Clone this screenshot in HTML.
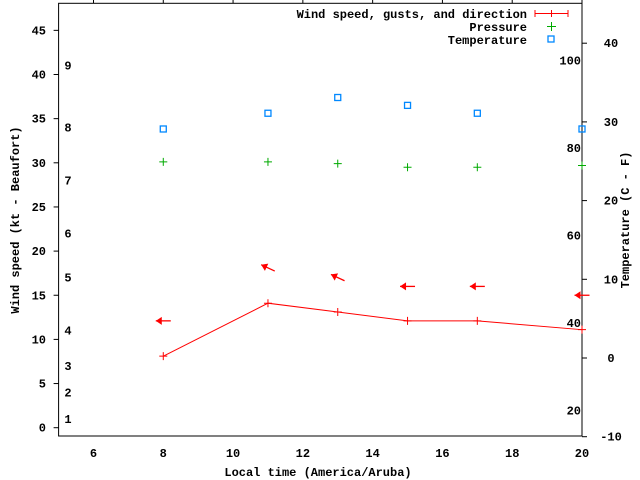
<!DOCTYPE html>
<html><head><meta charset="utf-8"><style>
html,body{margin:0;padding:0;background:#fff}
svg{display:block}
text{font-family:"Liberation Mono",monospace;font-size:12px;font-weight:bold;fill:#000}
</style></head><body>
<svg id="chart" width="640" height="480" viewBox="0 0 640 480" xmlns="http://www.w3.org/2000/svg">
<rect x="0" y="0" width="640" height="480" fill="#fff"/>
<g id="axes"></g>
<g id="marks"></g>
<g id="legend">
<text x="527" y="18" text-anchor="end">Wind speed, gusts, and direction</text>
<g stroke="#f00" stroke-width="1"><line x1="535" y1="13.5" x2="568" y2="13.5"/><line x1="535" y1="10" x2="535" y2="17"/><line x1="568" y1="10" x2="568" y2="17"/><line x1="551.5" y1="10" x2="551.5" y2="17"/></g>
<text x="527" y="31" text-anchor="end">Pressure</text>
<g stroke="#0a0" stroke-width="1"><line x1="547" y1="26.5" x2="556" y2="26.5"/><line x1="551.5" y1="22" x2="551.5" y2="31"/></g>
<text x="527" y="44" text-anchor="end">Temperature</text>
<rect x="548" y="36" width="6" height="6" fill="none" stroke="#08f" stroke-width="1.3"/>
</g>
<text x="318" y="476" text-anchor="middle">Local time (America/Aruba)</text>
<text transform="translate(19,220) rotate(-90)" text-anchor="middle">Wind speed (kt - Beaufort)</text>
<text transform="translate(629,220) rotate(-90)" text-anchor="middle">Temperature (C - F)</text>
</svg>
<script>
const hours = [8, 11, 13, 15, 17, 20];
const windSpeed = [8.1, 14.1, 13.1, 12.1, 12.1, 11.1];
const gustLevel = [12.1, 18.1, 17.0, 16.0, 16.0, 15.0];
const windDirDeg = [180, 155, 155, 180, 180, 180];
const pressure = [30.1, 30.1, 29.9, 29.5, 29.5, 29.7];
const temperatureC = [29.1, 31.1, 33.1, 32.1, 31.1, 29.1];
const xTicks = [6, 8, 10, 12, 14, 16, 18, 20];
const yTicks = [0, 5, 10, 15, 20, 25, 30, 35, 40, 45];
const y2Ticks = [-10, 0, 10, 20, 30, 40];
const fahrenheitTicks = [20, 40, 60, 80, 100];
const beaufortLabels = [1, 2, 3, 4, 5, 6, 7, 8, 9];
const beaufortKt = [1, 4, 7, 11, 17, 22, 28, 34, 41];

const L = 58.6, R = 582, T = 3.3, B = 436;
const xs = v => L + (v - 5) * (R - L) / 15;
const ys = v => 427.7 - v * 8.83;
const y2s = v => 436.7 - (v + 10) * 7.87;
const NS = "http://www.w3.org/2000/svg";
function mk(tag, attrs, parent, txt) {
  const e = document.createElementNS(NS, tag);
  for (const k in attrs) e.setAttribute(k, attrs[k]);
  if (txt !== undefined) e.textContent = txt;
  parent.appendChild(e);
  return e;
}
const axes = document.getElementById('axes');
const marks = document.getElementById('marks');
const frame = mk('rect', {x: L, y: T, width: R - L, height: B - T, fill: 'none', stroke: '#000', 'stroke-width': 1}, axes);


xTicks.forEach(v => {
  const x = xs(v);
  mk('line', {x1: x, y1: 0, x2: x, y2: T, stroke: '#000'}, axes);
  const t = mk('text', {x: x, y: 457, 'text-anchor': 'middle'}, axes, v);
  
  
});
yTicks.forEach(v => {
  const y = ys(v);
  mk('line', {x1: L - 5, y1: y, x2: L, y2: y, stroke: '#000'}, axes);
  const t = mk('text', {x: 46, y: y + 4, 'text-anchor': 'end'}, axes, v);
  
  
});
y2Ticks.forEach(v => {
  const y = y2s(v);
  mk('line', {x1: R, y1: y, x2: R + 5, y2: y, stroke: '#000'}, axes);
  const t = mk('text', {x: 611, y: y + 4, 'text-anchor': 'middle'}, axes, v);
  
  
});
fahrenheitTicks.forEach(v => {
  const t = mk('text', {x: 581, y: y2s((v - 32) * 5 / 9) + 4, 'text-anchor': 'end'}, axes, v);
  
  
});
beaufortLabels.forEach((v, i) => {
  const t = mk('text', {x: 68, y: ys(beaufortKt[i]) + 4, 'text-anchor': 'middle'}, axes, v);
  
  
});
// wind line
const pts = hours.map((h, i) => xs(h) + ',' + ys(windSpeed[i])).join(' ');
const wl = mk('polyline', {points: pts, fill: 'none', stroke: '#f00', 'stroke-width': 1}, marks);


hours.forEach((h, i) => {
  const x = xs(h), y = ys(windSpeed[i]);
  const g = mk('path', {d: `M${x-4},${y}H${x+4}M${x},${y-4}V${y+4}`, stroke: '#f00', 'stroke-width': 1}, marks);
  
  
});
// direction arrows
hours.forEach((h, i) => {
  const cx = xs(h), cy = ys(gustLevel[i]);
  const a = windDirDeg[i] * Math.PI / 180;
  const dx = Math.cos(a), dy = -Math.sin(a), len = 15;
  const hx = cx + dx * len / 2, hy = cy + dy * len / 2;
  const tx = cx - dx * len / 2, ty = cy - dy * len / 2;
  const px = -dy, py = dx;
  const g = mk('g', {}, marks);
  
  
  mk('line', {x1: tx, y1: ty, x2: hx, y2: hy, stroke: '#f00', 'stroke-width': 1.3}, g);
  const bx = hx - dx * 6, by = hy - dy * 6;
  mk('polygon', {points: `${hx},${hy} ${bx + px * 4},${by + py * 4} ${bx - px * 4},${by - py * 4}`, fill: '#f00'}, g);
});
// pressure
hours.forEach((h, i) => {
  const x = xs(h), y = ys(pressure[i]);
  const g = mk('path', {d: `M${x-4},${y}H${x+4}M${x},${y-4}V${y+4}`, stroke: '#0a0', 'stroke-width': 1}, marks);
  
  
});
// temperature
hours.forEach((h, i) => {
  const x = xs(h), y = y2s(temperatureC[i]);
  const r = mk('rect', {x: x - 3, y: y - 3, width: 6, height: 6, fill: 'none', stroke: '#08f', 'stroke-width': 1.3}, marks);
  
  
});
</script>
</body></html>
